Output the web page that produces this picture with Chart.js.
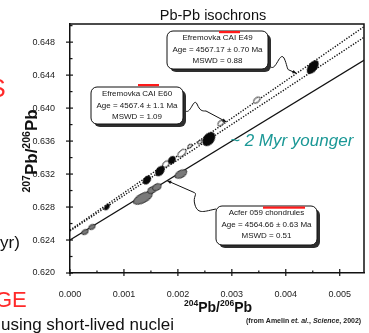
<!DOCTYPE html>
<html><head><meta charset="utf-8">
<script src="https://cdn.jsdelivr.net/npm/chart.js@4.4.1/dist/chart.umd.min.js"></script>
<style>html,body{margin:0;padding:0;background:#fff;overflow:hidden}canvas{display:block}</style>
</head><body>
<canvas id="c" width="369" height="333"></canvas>
<script>
// ---------- data ----------
const xTicks = [0, 0.001, 0.002, 0.003, 0.004, 0.005];
const xTickLabels = ['0.000','0.001','0.002','0.003','0.004','0.005'];
const yTicks = [0.620, 0.624, 0.628, 0.632, 0.636, 0.640, 0.644, 0.648];
const yTickLabels = ['0.620','0.624','0.628','0.632','0.636','0.640','0.644','0.648'];
const xMinor = [0.0005, 0.0015, 0.0025, 0.0035, 0.0045];
const yMinor = [0.622, 0.626, 0.630, 0.634, 0.638, 0.642, 0.646, 0.650];

const isochronX = [0, 0.0055];
const acferLineY = [0.6240, 0.6460];   // Acfer 059 chondrules isochron
const e60LineY   = [0.6251, 0.6488];   // Efremovka CAI E60
const e49LineY   = [0.6252, 0.6501];   // Efremovka CAI E49

const chondruleX = [0.000278, 0.000407, 0.001352, 0.001519, 0.001611, 0.002056];
const chondruleY = [0.62497, 0.62558, 0.62909, 0.63006, 0.63042, 0.63200];
const caiFilledX = [0.000685, 0.001426, 0.001667, 0.001889, 0.002574, 0.004500];
const caiFilledY = [0.62800, 0.63127, 0.63236, 0.63370, 0.63624, 0.64497];
const caiOpenX   = [0.001778, 0.002074, 0.002222, 0.002407, 0.002796, 0.003463];
const caiOpenY   = [0.63321, 0.63455, 0.63539, 0.63588, 0.63818, 0.64097];

// ---------- styles ----------
const chondruleSize = [[7,4.5],[7,4.5],[21,9],[9,6],[9,6],[13,7]];
const caiFilledSize = [[7,3.5],[9,6],[11,7],[8,6],[15,10],[15,8]];
const caiOpenSize   = [[8,5],[10,5],[5,3],[5,3],[7,4.5],[8,4.5]];

function ellipseCanvas(w, h, fill, stroke){
  const cv = document.createElement('canvas');
  cv.width = Math.ceil(w + 3); cv.height = Math.ceil(h + 3);
  const g = cv.getContext('2d');
  g.beginPath();
  g.ellipse(cv.width/2, cv.height/2, w/2, h/2, 0, 0, Math.PI*2);
  g.fillStyle = fill; g.fill();
  g.lineWidth = 0.9; g.strokeStyle = stroke; g.stroke();
  return cv;
}
const grayImgs  = chondruleSize.map(s => ellipseCanvas(s[0], s[1], '#7a7a7a', '#222'));
const blackImgs = caiFilledSize.map(s => ellipseCanvas(s[0], s[1], '#080808', '#000'));
const whiteImgs = caiOpenSize.map(s => ellipseCanvas(s[0], s[1], '#ffffff', '#111'));

const pts = (xs, ys) => xs.map((x, i) => ({x, y: ys[i]}));

function roundRect(c, x, y, w, h, r){
  c.beginPath(); c.moveTo(x + r, y);
  c.arcTo(x + w, y, x + w, y + h, r); c.arcTo(x + w, y + h, x, y + h, r);
  c.arcTo(x, y + h, x, y, r); c.arcTo(x, y, x + w, y, r); c.closePath();
}
function callout(c, b, lines, bar){
  c.fillStyle = '#2e2e2e'; roundRect(c, b.x + 3, b.y + 3, b.w, b.h, 6); c.fill();
  c.fillStyle = '#fff'; roundRect(c, b.x, b.y, b.w, b.h, 6); c.fill();
  c.strokeStyle = '#111'; c.lineWidth = 1; c.stroke();
  c.fillStyle = '#151515'; c.font = '8px "Liberation Sans", Arial, sans-serif';
  c.textAlign = 'center'; c.textBaseline = 'middle';
  const cx = b.x + b.w/2;
  lines.forEach((t, i) => c.fillText(t, cx, b.y + 7 + i*11.5, b.w - 4));
  c.fillStyle = '#ff1a1a'; c.fillRect(bar[0], bar[1], bar[2], 2.2);
}
function arrowTo(c, fx, fy, tx, ty){
  c.beginPath(); c.moveTo(fx, fy); c.lineTo(tx, ty); c.stroke();
  const a = Math.atan2(ty - fy, tx - fx), L = 4.5;
  c.beginPath(); c.moveTo(tx, ty);
  c.lineTo(tx - L*Math.cos(a - 0.4), ty - L*Math.sin(a - 0.4));
  c.lineTo(tx - L*Math.cos(a + 0.4), ty - L*Math.sin(a + 0.4));
  c.closePath(); c.fillStyle = '#111'; c.fill();
}

const decor = {
  id: 'decor',
  afterDraw(chart){
    const c = chart.ctx, a = chart.chartArea, sx = chart.scales.x, sy = chart.scales.y;
    c.save();
    // frame
    c.strokeStyle = '#111'; c.lineWidth = 1.5;
    c.beginPath(); c.moveTo(a.left, a.top); c.lineTo(a.right, a.top); c.lineTo(a.right, a.bottom); c.stroke();
    // ticks
    c.lineWidth = 1.2;
    xTicks.forEach(v => { const p = sx.getPixelForValue(v); c.beginPath(); c.moveTo(p, a.bottom + 3); c.lineTo(p, a.bottom - 4); c.stroke(); });
    xMinor.forEach(v => { const p = sx.getPixelForValue(v); c.beginPath(); c.moveTo(p, a.bottom); c.lineTo(p, a.bottom - 2.5); c.stroke(); });
    yTicks.forEach(v => { const p = sy.getPixelForValue(v); c.beginPath(); c.moveTo(a.left - 4, p); c.lineTo(a.left + 3, p); c.stroke(); });
    yMinor.forEach(v => { const p = sy.getPixelForValue(v); c.beginPath(); c.moveTo(a.left, p); c.lineTo(a.left + 2.5, p); c.stroke(); });

    // callouts with wavy leaders
    const lineAt = (ys, x) => ys[0] + (ys[1] - ys[0]) * (x - isochronX[0]) / (isochronX[1] - isochronX[0]);
    c.strokeStyle = '#111'; c.lineWidth = 1;
    // E49
    let tx = sx.getPixelForValue(0.0042), ty = sy.getPixelForValue(lineAt(e49LineY, 0.0042));
    c.beginPath(); c.moveTo(268, 63); c.bezierCurveTo(275, 78, 279, 50, 284, 58); c.bezierCurveTo(287, 64, 287, 70, 289, 70); c.stroke();
    arrowTo(c, 289, 70, tx, ty);
    // E60
    tx = sx.getPixelForValue(0.00290); ty = sy.getPixelForValue(lineAt(e49LineY, 0.00290));
    c.beginPath(); c.moveTo(183, 108); c.bezierCurveTo(190, 120, 193, 96, 197, 104); c.bezierCurveTo(200, 111, 202, 111, 206, 111); c.stroke();
    arrowTo(c, 206, 111, tx, ty);
    // Acfer
    tx = sx.getPixelForValue(0.00180); ty = sy.getPixelForValue(lineAt(acferLineY, 0.00180));
    c.beginPath(); c.moveTo(216, 209); c.bezierCurveTo(205, 211, 198, 215, 195, 205); c.bezierCurveTo(192, 196, 199, 194, 193, 192); c.stroke();
    arrowTo(c, 193, 192, tx, ty);

    callout(c, {x:167, y:31, w:101, h:38}, ['Efremovka CAI E49', 'Age = 4567.17 \u00b1 0.70 Ma', 'MSWD = 0.88'], [219, 31, 21]);
    callout(c, {x:91, y:87, w:92, h:37}, ['Efremovka CAI E60', 'Age = 4567.4 \u00b1 1.1 Ma', 'MSWD = 1.09'], [138, 84, 21]);
    callout(c, {x:216, y:206, w:101, h:39}, ['Acfer 059 chondrules', 'Age = 4564.66 \u00b1 0.63 Ma', 'MSWD = 0.51'], [263, 206.5, 42]);

    // title
    c.fillStyle = '#111'; c.textAlign = 'center'; c.textBaseline = 'alphabetic';
    c.font = '14.5px "Liberation Sans", Arial, sans-serif';
    c.fillText('Pb-Pb isochrons', 213, 20);

    // axis titles with superscripts
    function supTitle(parts, big, small){
      let w = 0;
      parts.forEach(p => { c.font = 'bold ' + (p.s ? small : big) + 'px "Liberation Sans", Arial, sans-serif'; p.w = c.measureText(p.t).width; w += p.w; });
      let x = -w/2; c.textAlign = 'left';
      parts.forEach(p => { c.font = 'bold ' + (p.s ? small : big) + 'px "Liberation Sans", Arial, sans-serif'; c.fillText(p.t, x, p.s ? -big*0.42 : 0); x += p.w; });
    }
    c.save(); c.translate(218, 312);
    supTitle([{t:'204', s:1}, {t:'Pb/'}, {t:'206', s:1}, {t:'Pb'}], 14, 8.5);
    c.restore();
    c.save(); c.translate(37, 151); c.rotate(-Math.PI/2);
    supTitle([{t:'207', s:1}, {t:'Pb/'}, {t:'206', s:1}, {t:'Pb'}], 17, 10.5);
    c.restore();

    // annotation text
    c.textAlign = 'left';
    c.fillStyle = '#1b9896'; c.font = 'italic 17px "Liberation Sans", Arial, sans-serif';
    c.fillText('~ 2 Myr younger', 230, 146);

    // slide fragments at left
    c.fillStyle = '#ff2a2a'; c.font = '25px "Liberation Sans", Arial, sans-serif';
    c.fillText('S', -11, 97);
    c.font = '22px "Liberation Sans", Arial, sans-serif';
    c.fillText('GE', -5, 307);
    c.fillStyle = '#111'; c.font = '17px "Liberation Sans", Arial, sans-serif';
    c.fillText('yr)', 0, 248);
    c.fillText('using short-lived nuclei', 1, 330);
    // citation
    c.fillStyle = '#222';
    const segs = [['(from Amelin ', ''], ['et. al.', 'italic '], [', ', ''], ['Science', 'italic '], [', 2002)', '']];
    let cx = 246;
    segs.forEach(s => { c.font = s[1] + 'bold 7px "Liberation Sans", Arial, sans-serif'; c.fillText(s[0], cx, 323); cx += c.measureText(s[0]).width; });
    c.restore();
  }
};

new Chart(document.getElementById('c'), {
  type: 'scatter',
  data: { datasets: [
    { label: 'Acfer 059 chondrules isochron', data: pts(isochronX, acferLineY), showLine: true, borderColor: '#111', borderWidth: 1.2, pointRadius: 0, order: 5 },
    { label: 'E60 isochron', data: pts(isochronX, e60LineY), showLine: true, borderColor: '#111', borderWidth: 1.4, borderDash: [1.3, 1.5], pointRadius: 0, order: 5 },
    { label: 'E49 isochron', data: pts(isochronX, e49LineY), showLine: true, borderColor: '#111', borderWidth: 1.4, borderDash: [1.3, 1.5], pointRadius: 0, order: 5 },
    { label: 'Chondrules', data: pts(chondruleX, chondruleY), pointStyle: ctx => grayImgs[ctx.dataIndex], pointRotation: -28, order: 1 },
    { label: 'CAI (filled)', data: pts(caiFilledX, caiFilledY), pointStyle: ctx => blackImgs[ctx.dataIndex], pointRotation: -52, order: 1 },
    { label: 'CAI (open)', data: pts(caiOpenX, caiOpenY), pointStyle: ctx => whiteImgs[ctx.dataIndex], pointRotation: -42, order: 1 }
  ]},
  options: {
    responsive: false, animation: false, devicePixelRatio: 1,
    layout: { padding: { top: 24, right: 3, left: 0, bottom: 0 } },
    plugins: { legend: { display: false }, tooltip: { enabled: false }, title: { display: false } },
    scales: {
      x: { type: 'linear', min: 0, max: 0.00545,
        afterBuildTicks: s => { s.ticks = xTicks.map(v => ({ value: v })); },
        afterFit: s => { s.height = 60; },
        ticks: { callback: (v, i) => xTickLabels[i], font: { size: 9, family: '"Liberation Sans", Arial, sans-serif' }, color: '#222', padding: 8, maxRotation: 0, autoSkip: false },
        grid: { display: false }, border: { display: true, color: '#111', width: 1.5 } },
      y: { type: 'linear', min: 0.620, max: 0.6502,
        afterBuildTicks: s => { s.ticks = yTicks.map(v => ({ value: v })); },
        afterFit: s => { s.width = 70; },
        ticks: { callback: (v, i) => yTickLabels[i], font: { size: 9, family: '"Liberation Sans", Arial, sans-serif' }, color: '#222', padding: 7, autoSkip: false },
        grid: { display: false }, border: { display: true, color: '#111', width: 1.5 } }
    }
  },
  plugins: [decor]
});
</script>
</body></html>
